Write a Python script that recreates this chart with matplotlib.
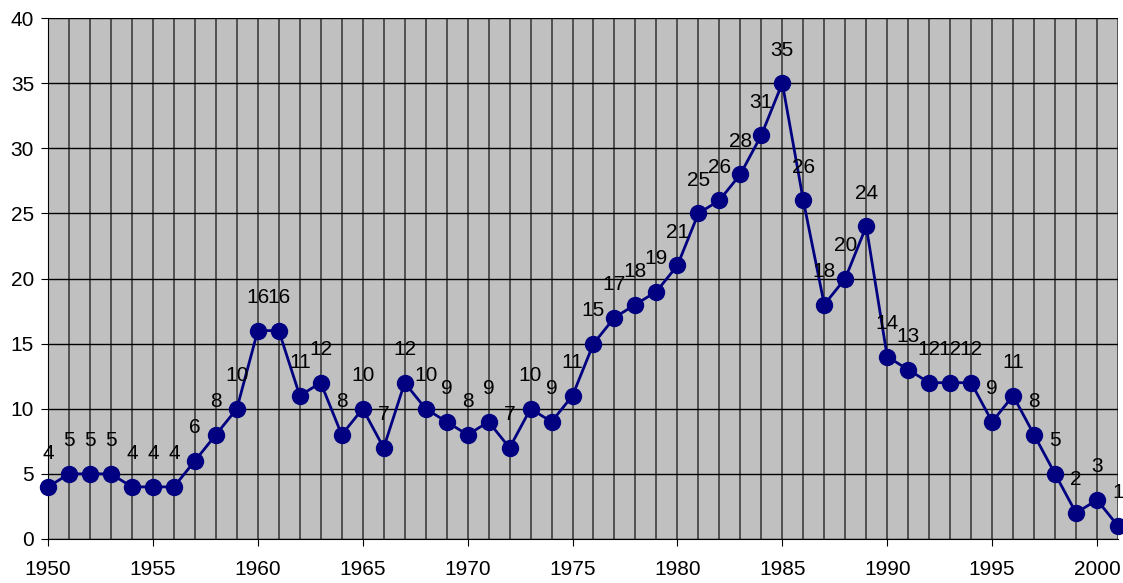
import matplotlib
matplotlib.use("Agg")
import matplotlib.pyplot as plt
from matplotlib.ticker import MultipleLocator

years = list(range(1950, 2002))
values = [4, 5, 5, 5, 4, 4, 4, 6, 8, 10,
          16, 16, 11, 12, 8, 10, 7, 12, 10, 9,
          8, 9, 7, 10, 9, 11, 15, 17, 18, 19,
          21, 25, 26, 28, 31, 35, 26, 18, 20, 24,
          14, 13, 12, 12, 12, 9, 11, 8, 5, 2,
          3, 1]

plt.rcParams['font.family'] = ['Liberation Sans', 'DejaVu Sans']

fig = plt.figure(figsize=(11.23, 5.83), dpi=100)
ax = fig.add_axes([48/1123, 1 - 539/583, (1118 - 48)/1123, (539 - 18)/583])
ax.set_facecolor('#C0C0C0')

ax.set_xlim(1950, 2001)
ax.set_ylim(0, 40)
ax.xaxis.set_major_locator(MultipleLocator(5))
ax.xaxis.set_minor_locator(MultipleLocator(1))
ax.yaxis.set_major_locator(MultipleLocator(5))

ax.grid(True, which='major', axis='y', color='black', linewidth=1)
ax.grid(True, which='both', axis='x', color='#333333', linewidth=1.1)
ax.set_axisbelow(True)

ax.plot(years, values, color='#000080', linewidth=2, marker='o',
        markersize=11.5, markerfacecolor='#000080', markeredgecolor='#000080',
        clip_on=False, zorder=3)

for x, y in zip(years, values):
    ax.annotate(str(y), (x, y), xytext=(0, 17), textcoords='offset points',
                ha='center', va='bottom', fontsize=15, color='black',
                annotation_clip=False)

for s in ['top', 'right']:
    ax.spines[s].set_visible(False)
ax.spines['left'].set_color('black')
ax.spines['bottom'].set_color('black')
ax.tick_params(axis='both', which='major', direction='out', length=5,
               labelsize=15, color='black')
ax.tick_params(axis='x', which='minor', length=0)
ax.tick_params(axis='x', pad=10)
ax.tick_params(axis='y', pad=5)

fig.savefig('out.png', dpi=100)
